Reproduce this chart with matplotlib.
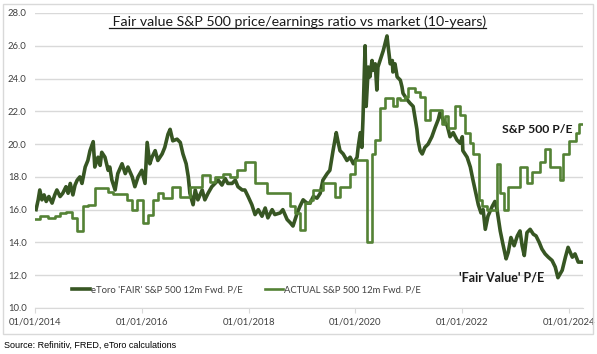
import matplotlib
matplotlib.use("Agg")
import matplotlib.pyplot as plt
from matplotlib.lines import Line2D

# eToro 'FAIR' S&P 500 12m fwd P/E (decimal year, value)
fair_t = [2014.02, 2014.06, 2014.09, 2014.13, 2014.17, 2014.21, 2014.26, 2014.32, 2014.37, 2014.41,
          2014.47, 2014.52, 2014.58, 2014.62, 2014.66, 2014.71, 2014.75, 2014.79, 2014.84, 2014.88,
          2014.94, 2014.99, 2015.03, 2015.09, 2015.12, 2015.18, 2015.22, 2015.25, 2015.31, 2015.37,
          2015.40, 2015.44, 2015.50, 2015.55, 2015.63, 2015.69, 2015.74, 2015.82, 2015.87, 2015.93,
          2016.00, 2016.06, 2016.10, 2016.15, 2016.19, 2016.25, 2016.30, 2016.38, 2016.43, 2016.49,
          2016.53, 2016.58, 2016.66, 2016.72, 2016.77, 2016.83, 2016.87, 2016.90, 2016.96, 2017.00,
          2017.05, 2017.13, 2017.18, 2017.24, 2017.31, 2017.37, 2017.43, 2017.50, 2017.56, 2017.61,
          2017.69, 2017.75, 2017.80, 2017.88, 2017.93, 2017.99, 2018.06, 2018.12, 2018.18, 2018.25,
          2018.31, 2018.36, 2018.44, 2018.49, 2018.59, 2018.64, 2018.72, 2018.78, 2018.83, 2018.91,
          2018.96, 2019.02, 2019.09, 2019.15, 2019.21, 2019.28, 2019.34, 2019.39, 2019.47, 2019.52,
          2019.58, 2019.64, 2019.67, 2019.71, 2019.77, 2019.84, 2019.90, 2019.96, 2020.03, 2020.05,
          2020.09, 2020.12, 2020.14, 2020.18, 2020.20, 2020.24, 2020.27, 2020.31, 2020.33, 2020.37,
          2020.40, 2020.42, 2020.46, 2020.52, 2020.59, 2020.61, 2020.65, 2020.69, 2020.70, 2020.74,
          2020.78, 2020.84, 2020.87, 2020.89, 2020.97, 2021.02, 2021.08, 2021.12, 2021.15, 2021.17,
          2021.21, 2021.25, 2021.30, 2021.36, 2021.43, 2021.49, 2021.55, 2021.58, 2021.64, 2021.72,
          2021.77, 2021.83, 2021.90, 2021.96, 2022.00, 2022.01, 2022.09, 2022.15, 2022.20, 2022.24,
          2022.30, 2022.35, 2022.39, 2022.43, 2022.48, 2022.56, 2022.61, 2022.65, 2022.71, 2022.76,
          2022.82, 2022.86, 2022.91, 2022.97, 2023.03, 2023.08, 2023.12, 2023.16, 2023.21, 2023.27,
          2023.33, 2023.38, 2023.44, 2023.49, 2023.55, 2023.61, 2023.68, 2023.74, 2023.79, 2023.87,
          2023.93, 2023.98, 2024.06, 2024.11, 2024.17, 2024.24]
fair_pe = [16.0, 16.6, 17.2, 16.6, 16.9, 16.5, 16.8, 16.4, 16.9, 17.2,
           16.8, 17.0, 17.4, 17.0, 17.6, 16.9, 17.5, 17.8, 18.0, 17.6,
           18.6, 19.0, 19.6, 20.15, 18.6, 19.2, 18.7, 19.5, 19.2, 18.4,
           18.6, 17.8, 17.2, 18.2, 18.8, 18.2, 18.6, 18.0, 17.4, 18.0,
           18.4, 17.6, 20.1, 18.8, 19.2, 19.6, 19.0, 19.4, 19.8, 20.6,
           20.9, 20.2, 20.3, 20.1, 19.4, 18.8, 18.0, 17.0, 16.3, 17.2,
           16.6, 17.2, 16.6, 17.0, 17.4, 17.6, 17.8, 17.5, 17.9, 17.6,
           17.6, 17.8, 17.4, 17.2, 17.2, 16.8, 16.3, 15.7, 16.0, 15.6,
           16.1, 15.5, 16.0, 15.7, 15.8, 16.0, 15.4, 15.2, 15.0, 15.8,
           16.2, 16.6, 16.4, 16.4, 16.8, 16.7, 17.0, 17.8, 18.2, 18.4,
           19.6, 20.7, 20.2, 19.6, 19.4, 19.0, 19.2, 18.8, 19.2, 19.8,
           20.7, 19.8, 21.5, 26.0, 22.3, 24.7, 24.1, 25.1, 24.5, 24.9,
           23.3, 24.7, 25.1, 25.7, 26.6, 26.0, 24.9, 25.1, 24.4, 24.9,
           24.1, 23.9, 23.5, 23.1, 22.7, 22.5, 22.3, 21.5, 20.9, 20.25,
           19.6, 19.4, 19.8, 20.0, 20.45, 21.0, 21.5, 21.9, 21.5, 21.1,
           20.45, 20.7, 20.25, 20.05, 20.45, 19.6, 19.2, 18.6, 17.8, 17.2,
           16.3, 15.8, 16.0, 14.8, 15.6, 16.2, 16.5, 16.0, 14.7, 13.9,
           13.0, 13.4, 14.3, 13.8, 14.4, 14.7, 13.8, 13.2, 14.6, 14.8,
           14.5, 14.4, 14.0, 13.6, 13.3, 13.1, 12.9, 12.5, 11.85, 12.3,
           13.1, 13.7, 13.1, 13.3, 12.8, 12.8]

# ACTUAL S&P 500 12m fwd P/E, step changes (decimal year, value)
actual_t = [2014.00, 2014.09, 2014.24, 2014.37, 2014.47, 2014.58, 2014.69, 2014.79, 2014.90, 2014.99,
            2015.12, 2015.37, 2015.46, 2015.72, 2015.82, 2015.91, 2016.02, 2016.12, 2016.21, 2016.30,
            2016.40, 2016.57, 2016.72, 2016.90, 2017.13, 2017.28, 2017.37, 2017.52, 2017.65, 2017.78,
            2017.93, 2018.12, 2018.34, 2018.78, 2018.87, 2018.96, 2019.06, 2019.15, 2019.21, 2019.39,
            2019.62, 2019.71, 2019.90, 2019.99, 2020.22, 2020.31, 2020.37, 2020.46, 2020.55, 2020.70,
            2020.78, 2020.84, 2020.93, 2020.98, 2021.12, 2021.21, 2021.30, 2021.40, 2021.62, 2021.68,
            2021.73, 2021.87, 2021.96, 2022.05, 2022.15, 2022.20, 2022.31, 2022.37, 2022.46, 2022.65,
            2022.71, 2022.78, 2022.86, 2023.08, 2023.21, 2023.31, 2023.46, 2023.55, 2023.64, 2023.83,
            2023.89, 2023.99, 2024.12, 2024.18, 2024.26]
actual_pe = [15.4, 15.6, 15.5, 15.6, 15.8, 15.85, 15.5, 14.7, 16.2, 16.3,
             17.3, 17.1, 16.95, 16.6, 16.0, 16.6, 15.2, 15.7, 16.6, 17.0,
             16.7, 17.4, 16.8, 17.4, 18.1, 17.7, 18.0, 18.2, 18.0, 18.4,
             18.9, 17.6, 17.0, 16.2, 15.8, 14.75, 16.4, 16.6, 17.2, 17.6,
             16.8, 17.4, 18.2, 19.0, 14.0, 19.4, 20.25, 22.2, 22.8, 22.3,
             22.8, 22.7, 22.9, 23.4, 23.2, 22.9, 21.5, 22.1, 21.2, 21.7,
             21.0, 22.3, 21.8, 20.7, 20.05, 19.4, 16.6, 16.2, 16.0, 18.8,
             17.0, 16.0, 17.4, 18.6, 17.6, 18.3, 18.9, 19.7, 18.6, 17.8,
             19.4, 20.2, 20.7, 21.2, 21.2]

x_ticks = [2014, 2016, 2018, 2020, 2022, 2024]
x_labels = ["01/01/2014", "01/01/2016", "01/01/2018", "01/01/2020", "01/01/2022", "01/01/2024"]
y_ticks = [10, 12, 14, 16, 18, 20, 22, 24, 26, 28]

dark = "#375623"
light = "#548235"
txt = "#404040"
font = "Lato"

fig = plt.figure(figsize=(5.97, 3.54), dpi=100)
fig.patches.append(plt.Rectangle((0.005, 0.057), 0.989, 0.933, transform=fig.transFigure,
                                 fill=False, edgecolor="#d9d9d9", linewidth=1))
ax = fig.add_axes([0.0586, 0.13, 0.918, 0.8333])

ax.plot(fair_t, fair_pe, color=dark, linewidth=2.6, solid_joinstyle="round",
        label="eToro 'FAIR' S&P 500 12m Fwd. P/E", zorder=3)
ax.plot(actual_t, actual_pe, color=light, linewidth=1.9, drawstyle="steps-post",
        label="ACTUAL S&P 500 12m Fwd. P/E", zorder=4)

ax.set_xlim(2014.0, 2024.26)
ax.set_ylim(10, 28)
ax.set_xticks(x_ticks)
ax.set_xticklabels(x_labels)
ax.set_yticks(y_ticks)
ax.set_yticklabels(["%.1f" % v for v in y_ticks])
for lab in ax.get_xticklabels() + ax.get_yticklabels():
    lab.set_fontfamily(font)
    lab.set_fontsize(6.8)
    lab.set_color(txt)

ax.grid(axis="y", color="#d9d9d9", linewidth=1)
ax.set_axisbelow(True)
for s in ["top", "right", "left"]:
    ax.spines[s].set_visible(False)
ax.spines["bottom"].set_color("#d9d9d9")
ax.tick_params(axis="y", length=0, pad=6)
ax.tick_params(axis="x", length=3.5, color="#d9d9d9", pad=3)

leg = ax.legend(loc="center", bbox_to_anchor=(0.386, 0.061), ncol=2, frameon=False,
                prop={"family": font, "size": 6.8}, handlelength=1.9, handletextpad=0.1,
                columnspacing=2.4, borderaxespad=0)
for t in leg.get_texts():
    t.set_color(txt)

ax.text(2022.74, 20.9, "S&P 500 P/E", fontfamily=font, fontweight="bold", fontsize=8.8,
        color="#1a1a1a", va="center", ha="left")
ax.text(2021.93, 11.85, "'Fair Value' P/E", fontfamily=font, fontweight="bold", fontsize=9.0,
        color="#1a1a1a", va="center", ha="left")

title = fig.text(0.499, 1 - 26 / 354, " Fair value S&P 500 price/earnings ratio vs market (10-years)",
                 ha="center", va="baseline", fontfamily=font, fontsize=10.2, color="#1a1a1a")
fig.text(0.006, 1 - 345 / 354, "Source: Refinitiv, FRED, eToro calculations",
         fontfamily="Liberation Sans", fontsize=6.5, va="center", color="black")

fig.canvas.draw()
bb = title.get_window_extent(fig.canvas.get_renderer()).transformed(fig.transFigure.inverted())
yl = 1 - 27.5 / 354
fig.add_artist(Line2D([bb.x0, bb.x1], [yl, yl], color="#1a1a1a", linewidth=0.9,
                      transform=fig.transFigure))

fig.savefig("out.png", dpi=100)
